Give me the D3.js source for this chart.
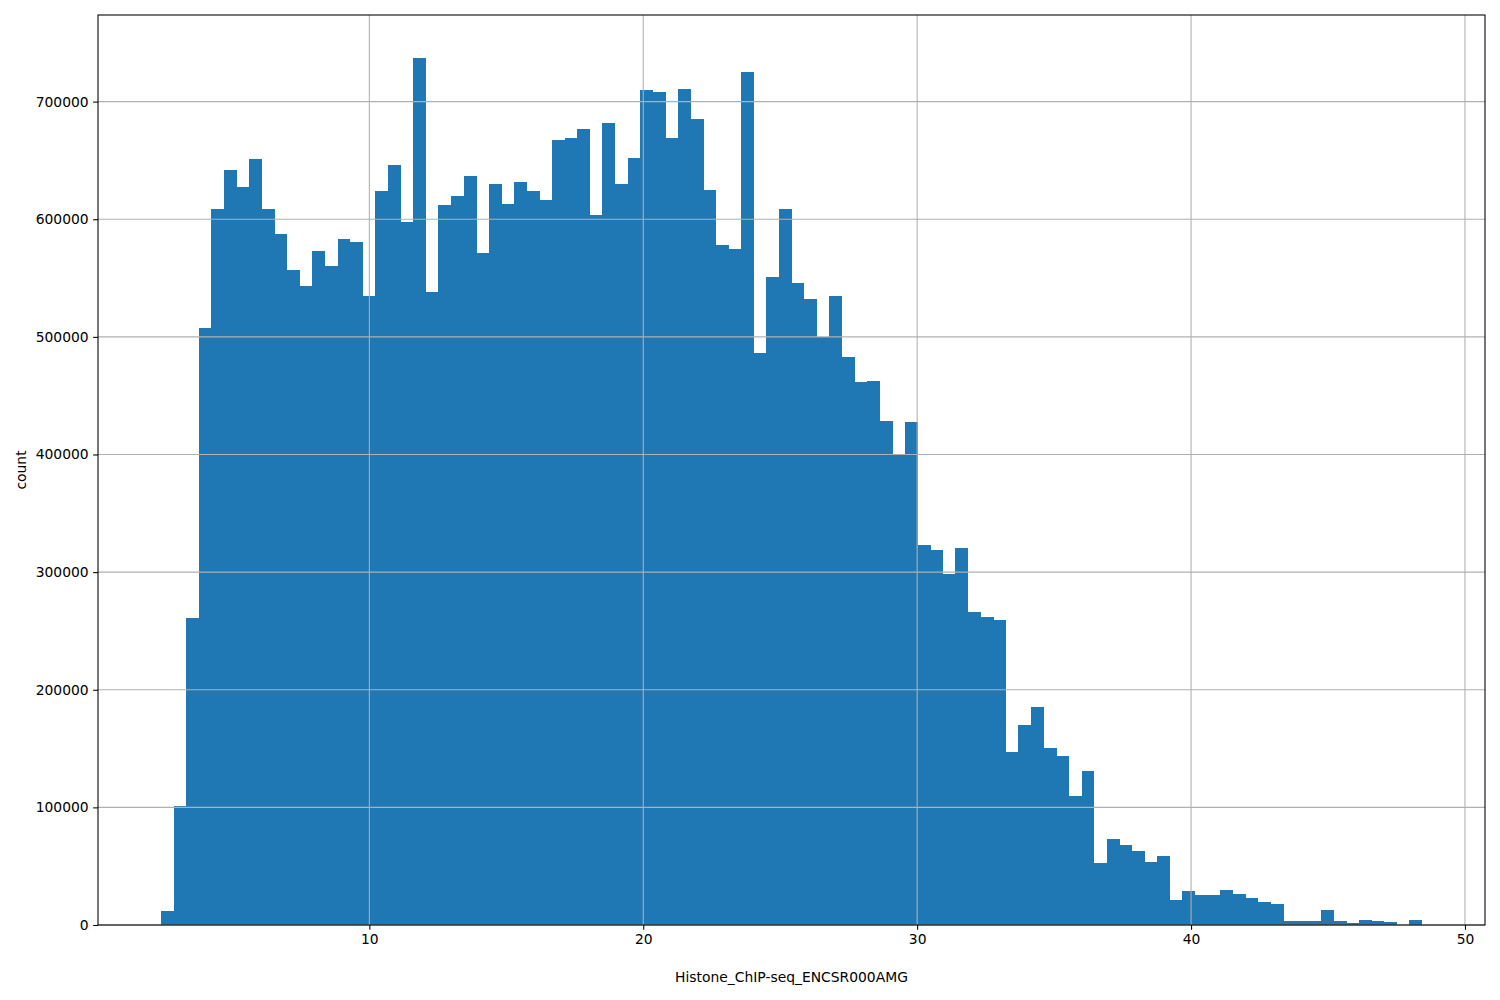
<!DOCTYPE html>
<html>
<head>
<meta charset="utf-8">
<script src="https://cdn.jsdelivr.net/npm/d3@7"></script>
<style>
  body { margin: 0; background: #fff; }
  svg { display: block; font-family: "DejaVu Sans", sans-serif; }
</style>
</head>
<body>
<svg id="chart" width="1500" height="1000"></svg>
<script>
// Histogram bin range (first and last bin edge) and bin counts
const binStart = 2.395;
const binEnd = 48.43;
const counts = [
  12200, 101400, 261000, 507500, 608500, 641700, 627000, 650800, 608500, 587300,
  556700, 543000, 572800, 560000, 583000, 581000, 535000, 623600, 646500, 598000,
  736800, 538000, 612000, 619500, 636500, 571000, 629600, 612600, 631500, 623600,
  616000, 667000, 669000, 676500, 604000, 681600, 629600, 651700, 709700, 708000,
  669000, 711000, 685000, 624500, 577700, 575000, 725000, 486000, 550500, 609000,
  545500, 532000, 500000, 535000, 482700, 461500, 462300, 428300, 400000, 427500,
  323000, 318800, 298500, 320500, 266000, 262000, 259400, 147200, 170000, 185500,
  150700, 143900, 109900, 131100, 53000, 73000, 68000, 63000, 53500, 58600,
  21500, 29000, 25500, 25500, 30000, 26500, 23000, 19700, 18000, 3700,
  3700, 3700, 12700, 3700, 2000, 4500, 3700, 2800, 0, 4500
];
const xTicks = [10, 20, 30, 40, 50];
const yTicks = [0, 100000, 200000, 300000, 400000, 500000, 600000, 700000];
const xLabel = "Histone_ChIP-seq_ENCSR000AMG";
const yLabel = "count";

const W = 1500, H = 1000;
const m = { left: 98, right: 1485, top: 15, bottom: 925 };
const FS = 13.89;
const svg = d3.select("#chart");

const nBins = counts.length;
const binW = (binEnd - binStart) / nBins;
const bins = counts.map((c, i) => ({ x0: binStart + i * binW, x1: binStart + (i + 1) * binW, c }));

const span = binEnd - binStart;
const x = d3.scaleLinear()
  .domain([binStart - 0.05 * span, binEnd + 0.05 * span])
  .range([m.left, m.right]);
const yMax = d3.max(counts) * 1.05;
const y = d3.scaleLinear().domain([0, yMax]).range([m.bottom, m.top]);

// bars
svg.append("g").selectAll("rect").data(bins).join("rect")
  .attr("x", d => x(d.x0))
  .attr("width", d => x(d.x1) - x(d.x0) + 0.3)
  .attr("y", d => y(d.c))
  .attr("height", d => y(0) - y(d.c))
  .attr("fill", "#1f77b4")
  .attr("shape-rendering", "crispEdges");

// grid on top of bars
const grid = svg.append("g").attr("stroke", "#b0b0b0").attr("stroke-width", 1.07);
grid.selectAll("line.v").data(xTicks).join("line").attr("class", "v")
  .attr("x1", d => x(d)).attr("x2", d => x(d))
  .attr("y1", m.top).attr("y2", m.bottom);
grid.selectAll("line.h").data(yTicks).join("line").attr("class", "h")
  .attr("y1", d => y(d)).attr("y2", d => y(d))
  .attr("x1", m.left).attr("x2", m.right);

// axes
const xAxis = d3.axisBottom(x).tickValues(xTicks).tickSize(4.86).tickPadding(4.5).tickFormat(d3.format("d"));
const yAxis = d3.axisLeft(y).tickValues(yTicks).tickSize(4.86).tickPadding(4.5).tickFormat(d3.format("d"));

const gx = svg.append("g").attr("transform", `translate(0,${m.bottom})`).call(xAxis);
const gy = svg.append("g").attr("transform", `translate(${m.left},0)`).call(yAxis);
[gx, gy].forEach(g => {
  g.select(".domain").remove();
  g.selectAll(".tick line").attr("stroke", "#000").attr("stroke-width", 1.07);
  g.selectAll(".tick text").attr("fill", "#000").attr("font-size", FS)
    .attr("font-family", "DejaVu Sans, sans-serif");
});

// spines
svg.append("rect")
  .attr("x", m.left).attr("y", m.top)
  .attr("width", m.right - m.left).attr("height", m.bottom - m.top)
  .attr("fill", "none").attr("stroke", "#000").attr("stroke-width", 1.07);

// labels
svg.append("text")
  .attr("x", (m.left + m.right) / 2).attr("y", 982)
  .attr("text-anchor", "middle").attr("font-size", FS).attr("fill", "#000")
  .text(xLabel);
svg.append("text")
  .attr("transform", `translate(26,${(m.top + m.bottom) / 2}) rotate(-90)`)
  .attr("text-anchor", "middle").attr("font-size", FS).attr("fill", "#000")
  .text(yLabel);
</script>
</body>
</html>
